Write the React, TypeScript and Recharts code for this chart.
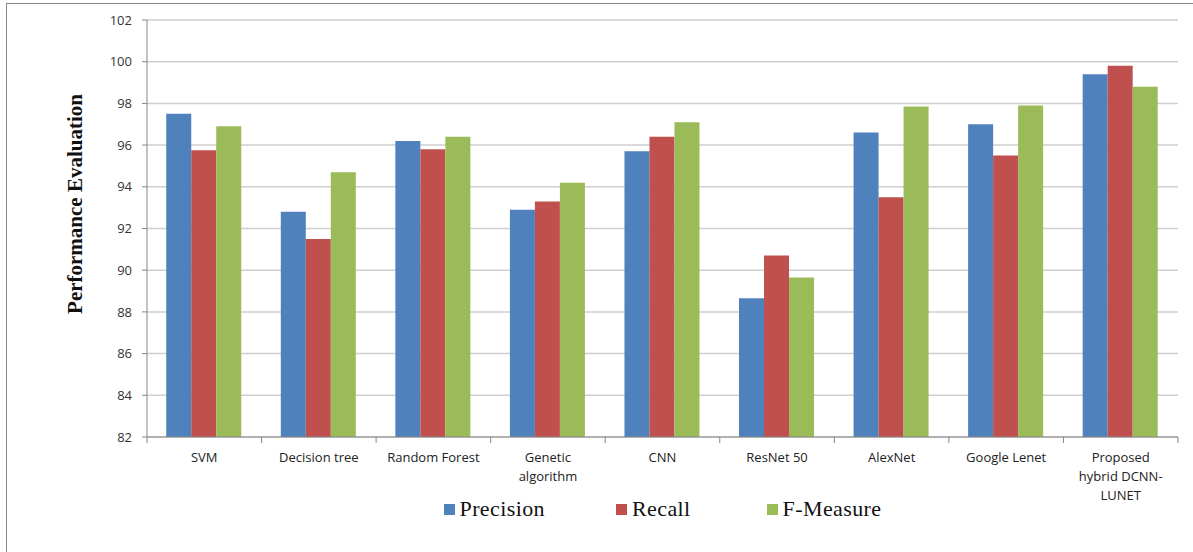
import { BarChart, Bar, XAxis, YAxis, CartesianGrid, Legend } from 'recharts';

const categories = [
  'SVM',
  'Decision tree',
  'Random Forest',
  'Genetic algorithm',
  'CNN',
  'ResNet 50',
  'AlexNet',
  'Google Lenet',
  'Proposed hybrid DCNN-LUNET',
];

// how each category name wraps under the axis
const tickLabels = [
  ['SVM'],
  ['Decision tree'],
  ['Random Forest'],
  ['Genetic', 'algorithm'],
  ['CNN'],
  ['ResNet 50'],
  ['AlexNet'],
  ['Google Lenet'],
  ['Proposed', 'hybrid DCNN-', 'LUNET'],
];

const precision = [97.5, 92.8, 96.2, 92.9, 95.7, 88.65, 96.6, 97.0, 99.4];
const recall = [95.75, 91.5, 95.8, 93.3, 96.4, 90.7, 93.5, 95.5, 99.8];
const fMeasure = [96.9, 94.7, 96.4, 94.2, 97.1, 89.65, 97.85, 97.9, 98.8];

const yTicks = [82, 84, 86, 88, 90, 92, 94, 96, 98, 100, 102];

const data = categories.map((name, i) => ({
  name,
  precision: precision[i],
  recall: recall[i],
  fMeasure: fMeasure[i],
}));

const WIDTH = 1193;
const HEIGHT = 552;
const X_AXIS_HEIGHT = 30;
const MARGIN = { top: 20, right: 15, bottom: 115 - X_AXIS_HEIGHT, left: 87 };
const Y_AXIS_WIDTH = 60;
const PLOT_W = WIDTH - MARGIN.left - Y_AXIS_WIDTH - MARGIN.right;
const BAND = PLOT_W / categories.length;

const series = [
  { key: 'precision', name: 'Precision', color: '#4F81BD' },
  { key: 'recall', name: 'Recall', color: '#C0504D' },
  { key: 'fMeasure', name: 'F-Measure', color: '#9BBB59' },
];

const sans = '"Open Sans", "Noto Sans", sans-serif';
const serif = '"Liberation Serif", "Times New Roman", serif';

const CategoryTick = (props: any) => {
  const { x, y, index } = props;
  const lines = tickLabels[index] || [props.payload.value];
  const left = x - BAND / 2;
  const isLast = index === categories.length - 1;
  return (
    <g>
      <line x1={left} y1={y} x2={left} y2={y + 6} stroke="#868686" />
      {isLast && <line x1={x + BAND / 2} y1={y} x2={x + BAND / 2} y2={y + 6} stroke="#868686" />}
      <text x={x} y={y} textAnchor="middle" fontFamily={sans} fontSize={13} fill="#222">
        {lines.map((line: string, i: number) => (
          <tspan key={i} x={x} dy={i === 0 ? 25 : 19}>
            {line}
          </tspan>
        ))}
      </text>
    </g>
  );
};

const legendGaps = [71, 76, 0];

const LegendContent = () => (
  <div
    style={{
      display: 'flex',
      justifyContent: 'center',
      fontFamily: serif,
      fontSize: 22,
      letterSpacing: 0.4,
      color: '#111',
    }}
  >
    {series.map((s, i) => (
      <div key={s.key} style={{ display: 'flex', alignItems: 'center', marginRight: legendGaps[i] }}>
        <span style={{ width: 11, height: 11, background: s.color, marginRight: 5, display: 'inline-block' }} />
        <span>{s.name}</span>
      </div>
    ))}
  </div>
);

const App = () => {
  return (
    <div style={{ position: 'fixed', top: 0, left: 0, width: WIDTH, height: HEIGHT, background: '#fff' }}>
      {/* outer frame */}
      <div
        style={{
          position: 'absolute',
          top: 3,
          left: 6,
          right: -2,
          bottom: -2,
          borderTop: '1.5px solid #8a8a8a',
          borderLeft: '1.5px solid #8a8a8a',
        }}
      />
      <BarChart
        width={WIDTH}
        height={HEIGHT}
        data={data}
        margin={MARGIN}
        barGap={0}
        barCategoryGap="16.8%"
      >
        <CartesianGrid vertical={false} stroke="#cfcfcf" strokeWidth={1.5} />
        <XAxis
          dataKey="name"
          height={X_AXIS_HEIGHT}
          interval={0}
          tickSize={0}
          tickMargin={0}
          tick={<CategoryTick />}
          axisLine={{ stroke: '#868686' }}
        />
        <YAxis
          width={Y_AXIS_WIDTH}
          domain={[82, 102]}
          ticks={yTicks}
          interval={0}
          allowDataOverflow
          tickSize={5}
          tickMargin={10}
          tickLine={{ stroke: '#868686' }}
          axisLine={{ stroke: '#868686' }}
          tick={{ fontFamily: sans, fontSize: 13, fill: '#333' }}
          label={{
            content: () => (
              <text
                x={75}
                y={204}
                transform="rotate(-90 75 204)"
                textAnchor="middle"
                dominantBaseline="central"
                fontFamily={serif}
                fontWeight="bold"
                fontSize={21}
                fill="#111"
              >
                Performance Evaluation
              </text>
            ),
          }}
        />
        <Legend
          layout="horizontal"
          align="center"
          verticalAlign="middle"
          content={<LegendContent />}
          wrapperStyle={{ top: 496, left: MARGIN.left + Y_AXIS_WIDTH, width: PLOT_W }}
        />
        {series.map((s) => (
          <Bar key={s.key} dataKey={s.key} name={s.name} fill={s.color} isAnimationActive={false} />
        ))}
      </BarChart>
    </div>
  );
};

export default App;
